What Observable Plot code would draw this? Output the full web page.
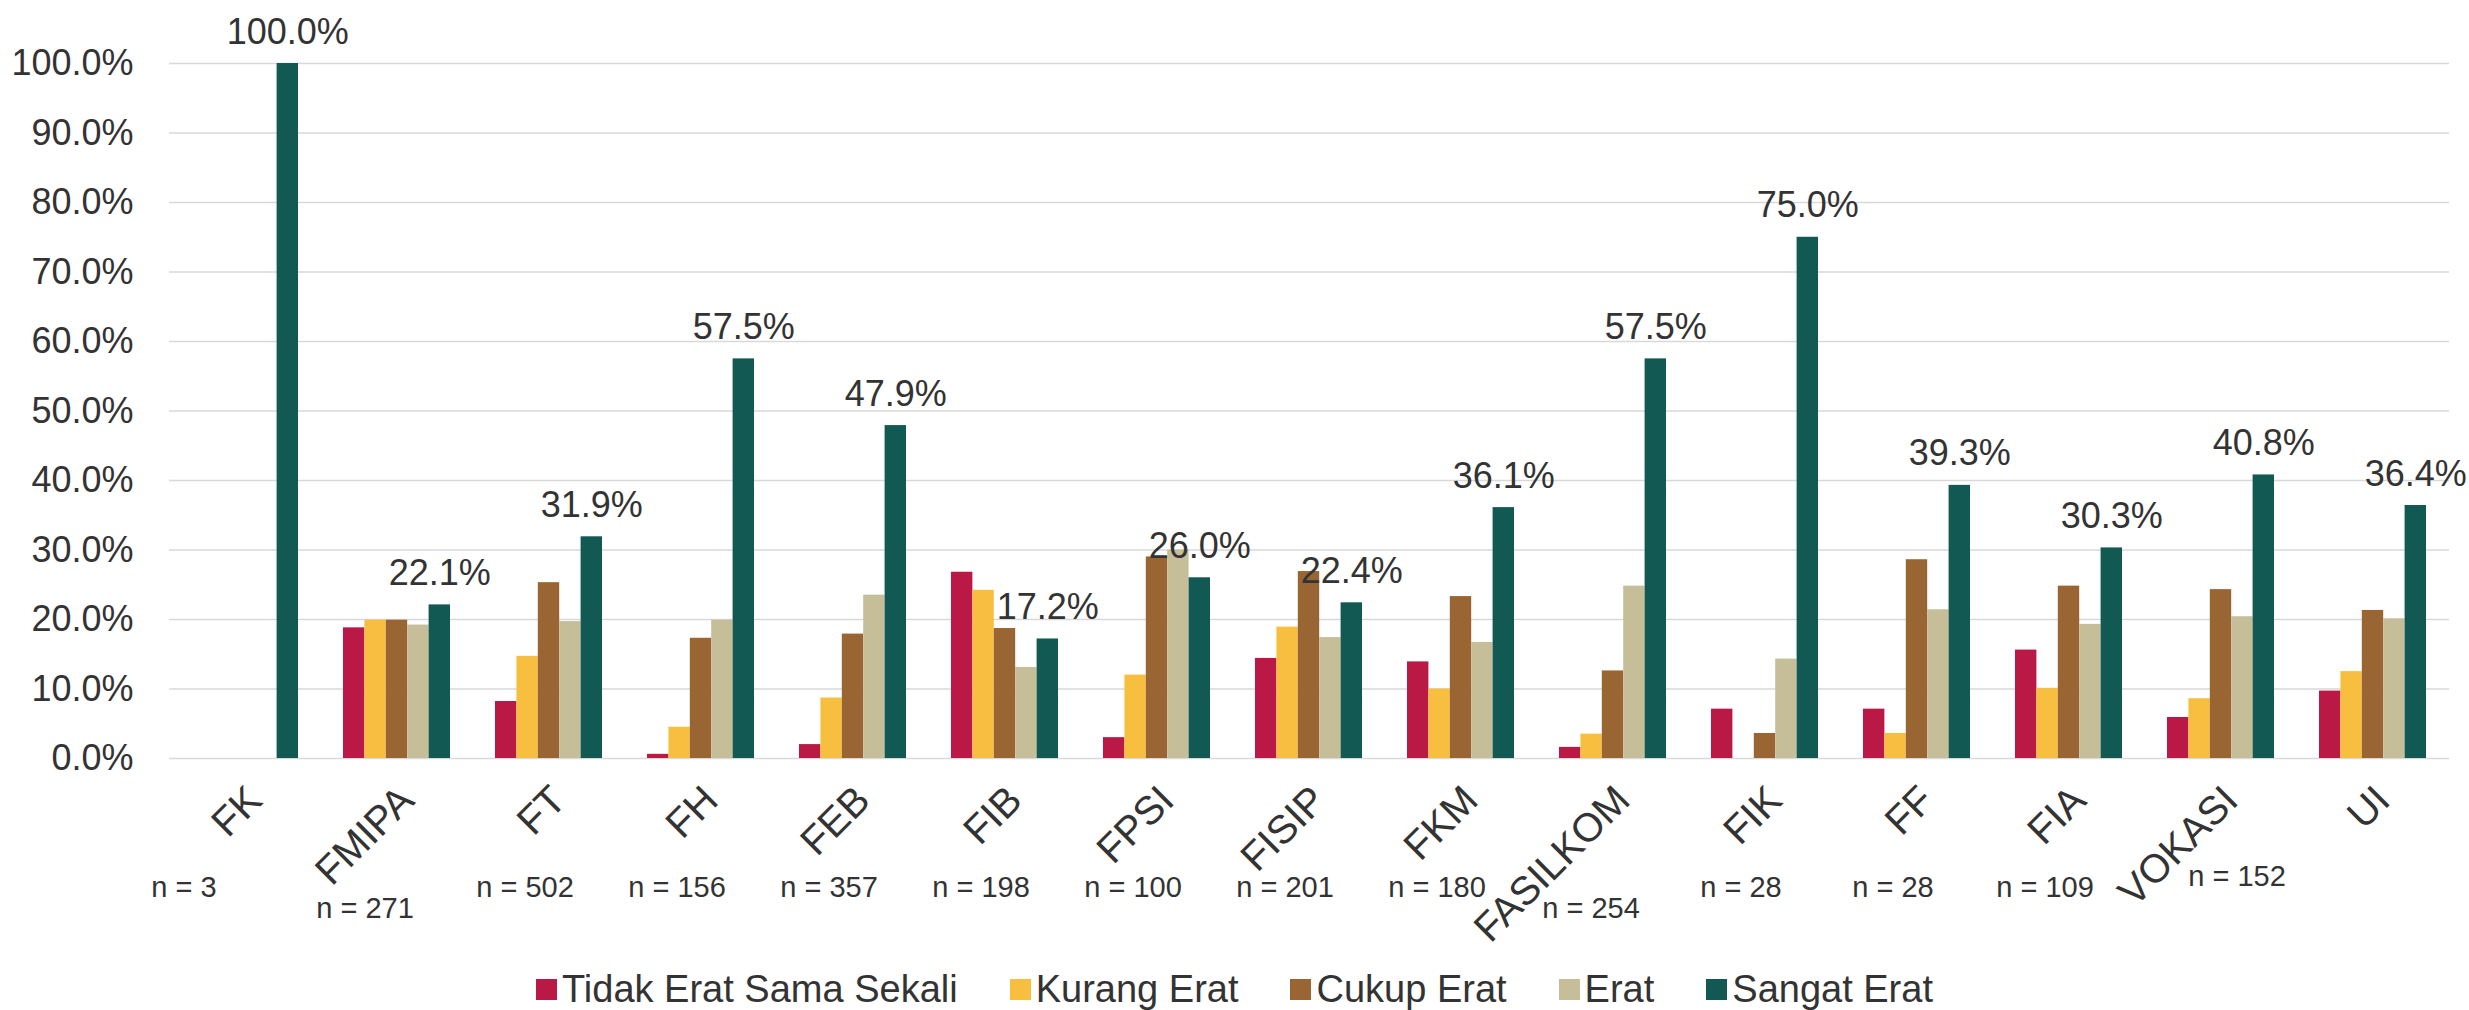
<!DOCTYPE html>
<html>
<head>
<meta charset="utf-8">
<script src="https://cdn.jsdelivr.net/npm/d3@7"></script>
<script src="https://cdn.jsdelivr.net/npm/@observablehq/plot@0.6"></script>
<style>
  html, body { margin: 0; padding: 0; background: #fff; }
  body { width: 2469px; height: 1010px; overflow: hidden; position: relative;
         font-family: "Liberation Sans", Arial, sans-serif; color: #333; }
  #legend { position: absolute; left: 0; top: 965px; width: 2469px; display: flex;
            justify-content: center; align-items: center; gap: 52px; font-size: 38px; line-height: 48px; }
  .item { display: flex; align-items: center; gap: 5px; }
  .sw { width: 21px; height: 21px; display: inline-block; }
  #total { position: absolute; left: 35px; top: 1002px; font-size: 30px; line-height: 36px; }
</style>
</head>
<body>
<div id="chart"></div>
<div id="legend"></div>
<div id="total"></div>
<script>
// ---- data ----
const faculties = ["FK","FMIPA","FT","FH","FEB","FIB","FPSI","FISIP","FKM","FASILKOM","FIK","FF","FIA","VOKASI","UI"];
const nCounts   = [3, 271, 502, 156, 357, 198, 100, 201, 180, 254, 28, 28, 109, 152, null];
const categories = ["Tidak Erat Sama Sekali","Kurang Erat","Cukup Erat","Erat","Sangat Erat"];
const colors = ["#BA1845","#F8BE40","#996633","#C6BE98","#125853"];
const tidakEratSamaSekali = [0, 18.8, 8.2, 0.6, 2.0, 26.8, 3.0, 14.4, 13.9, 1.6, 7.1, 7.1, 15.6, 5.9, 9.7];
const kurangErat          = [0, 19.9, 14.7, 4.5, 8.7, 24.2, 12.0, 18.9, 10.0, 3.5, 0, 3.6, 10.1, 8.6, 12.5];
const cukupErat           = [0, 19.9, 25.3, 17.3, 17.9, 18.7, 29.0, 26.9, 23.3, 12.6, 3.6, 28.6, 24.8, 24.3, 21.3];
const erat                = [0, 19.2, 19.7, 19.9, 23.5, 13.1, 30.0, 17.4, 16.7, 24.8, 14.3, 21.4, 19.3, 20.4, 20.1];
const sangatErat          = [100, 22.1, 31.9, 57.5, 47.9, 17.2, 26.0, 22.4, 36.1, 57.5, 75.0, 39.3, 30.3, 40.8, 36.4];
const yTicks = [0, 10, 20, 30, 40, 50, 60, 70, 80, 90, 100];
const totalLabel = "2559";

const series = [tidakEratSamaSekali, kurangErat, cukupErat, erat, sangatErat];
const rows = faculties.flatMap((f, i) => categories.map((c, j) => ({faculty: f, category: c, value: series[j][i]})));
const nRows = faculties.map((f, i) => ({faculty: f, n: nCounts[i]})).filter(d => d.n != null);

// ---- layout ----
const W = 2469, H = 960, mL = 169, mR = 20, mT = 63, mB = 202;
const padIn = 0.296, padOut = 0.148;
const step = (W - mL - mR) / (faculties.length - padIn + 2 * padOut);
const bw = step * (1 - padIn) / categories.length;
const font = '"Liberation Sans", Arial, sans-serif';
// nudges of the "n = ..." labels (layout only): [dx, dy]
const nNudge = {FK: [-61, 129], FMIPA: [-32, 150], FASILKOM: [-22, 150], VOKASI: [16, 118]};
const nDefault = [-24, 129];
const nGroups = d3.groups(nRows, d => (nNudge[d.faculty] || nDefault).join(","));

const chart = Plot.plot({
  width: W, height: H,
  marginLeft: mL, marginRight: mR, marginTop: mT, marginBottom: mB,
  style: {fontFamily: font, fontSize: "36px", color: "#333", background: "white", overflow: "visible"},
  x: {domain: faculties, paddingInner: padIn, paddingOuter: padOut, axis: null},
  y: {domain: [0, 100], axis: null},
  marks: [
    Plot.gridY(yTicks, {stroke: "#d9d9d9", strokeOpacity: 1, strokeWidth: 1.6}),
    Plot.axisY(yTicks, {tickSize: 0, tickPadding: 36, fontSize: 36, label: null, tickFormat: d => d.toFixed(1) + "%", fill: "#333"}),
    ...categories.map((c, j) => Plot.barY(rows.filter(r => r.category === c), {
      x: "faculty", y: "value", fill: colors[j],
      insetLeft: j * bw, insetRight: (categories.length - 1 - j) * bw
    })),
    Plot.text(rows.filter(r => r.category === "Sangat Erat"), {
      x: "faculty", y: "value", text: d => d.value.toFixed(1) + "%",
      dx: 2 * bw, dy: -20, lineAnchor: "bottom", fontSize: 36, fill: "#333"
    }),
    Plot.text(faculties, {
      x: d => d, y: () => 0, text: d => d, rotate: -45, textAnchor: "end",
      dx: 10, dy: 35, fontSize: 40, fill: "#333"
    }),
    ...nGroups.map(([key, data]) => {
      const [dx, dy] = key.split(",").map(Number);
      return Plot.text(data, {x: "faculty", y: () => 0, text: d => "n = " + d.n, dx, dy, fontSize: 29, fill: "#333"});
    })
  ]
});
document.getElementById("chart").appendChild(chart);

// ---- legend ----
const legend = document.getElementById("legend");
categories.forEach((c, j) => {
  const item = document.createElement("div");
  item.className = "item";
  const sw = document.createElement("span");
  sw.className = "sw";
  sw.style.background = colors[j];
  const t = document.createElement("span");
  t.textContent = c;
  item.appendChild(sw); item.appendChild(t);
  legend.appendChild(item);
});
document.getElementById("total").textContent = totalLabel;
</script>
</body>
</html>
